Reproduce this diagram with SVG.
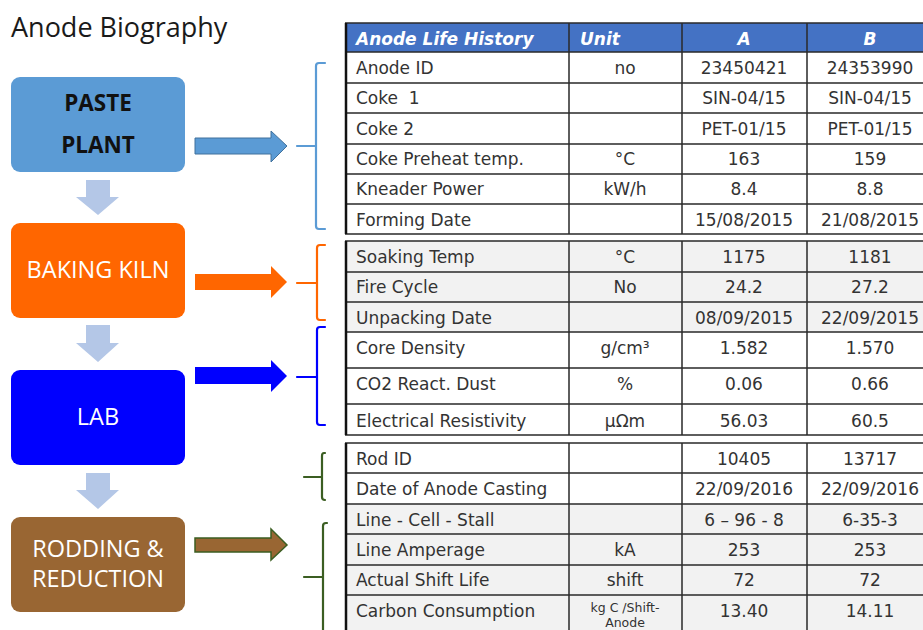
<svg xmlns="http://www.w3.org/2000/svg" width="923" height="630" viewBox="0 0 923 630">
<style>
.title{font-family:"Open Sans","Liberation Sans",sans-serif;font-size:27px;fill:#1a1a1a}
.box{font-family:"Open Sans","Liberation Sans",sans-serif;font-size:23.5px;fill:#fff;text-anchor:middle}
.boxb{font-family:"Open Sans","Liberation Sans",sans-serif;font-size:22.5px;font-weight:bold;fill:#111;text-anchor:middle}
.down{fill:#B4C7E7}
.t{font-family:"DejaVu Sans",Verdana,sans-serif;font-size:17px;fill:#333}
.c{text-anchor:middle}
.h{font-family:"DejaVu Sans",Verdana,sans-serif;font-size:17px;font-weight:bold;font-style:italic;fill:#fff}
.small{font-family:"DejaVu Sans",Verdana,sans-serif;font-size:12.5px;fill:#333;text-anchor:middle}
.grid{stroke:#2a2a2a;stroke-width:1.5;fill:none}
.br{fill:none;stroke-width:2.2;stroke-linecap:round;stroke-linejoin:round}
</style>
<rect width="923" height="630" fill="#fff"/>
<text class="title" x="11" y="37">Anode Biography</text>

<g id="paste-plant">
<rect x="11" y="77" width="174" height="95" rx="9" fill="#5B9BD5"/>
<text class="boxb" x="98" y="111">PASTE</text>
<text class="boxb" x="98" y="153">PLANT</text>
</g>
<g id="baking-kiln">
<rect x="11" y="223" width="174" height="95" rx="9" fill="#FF6600"/>
<text class="box" x="98" y="278">BAKING KILN</text>
</g>
<g id="lab">
<rect x="11" y="370" width="174" height="95" rx="9" fill="#0000FF"/>
<text class="box" x="98" y="425">LAB</text>
</g>
<g id="rodding-reduction">
<rect x="11" y="517" width="174" height="95" rx="9" fill="#996633"/>
<text class="box" x="98" y="557">RODDING &amp;</text>
<text class="box" x="98" y="587">REDUCTION</text>
</g>

<g id="connectors">
<polygon class="down" points="86,180 110,180 110,197 119,197 98,215 76,197 86,197"/>
<polygon class="down" points="86,325 110,325 110,343 119,343 98,362 76,343 86,343"/>
<polygon class="down" points="86,473 110,473 110,490 119,490 98,509 76,490 86,490"/>
<polygon points="195,138 271,138 271,131 287,146 271,162 271,154 195,154" fill="#5B9BD5" stroke="#41719C" stroke-width="1"/>
<polygon points="195,274 271,274 271,266 287,282 271,298 271,290 195,290" fill="#FF6600"/>
<polygon points="195,367 271,367 271,360 287,376 271,392 271,384 195,384" fill="#0000FF"/>
<polygon points="195,538 271,538 271,529 287,545 271,560 271,552 195,552" fill="#996633" stroke="#3B5E22" stroke-width="1.5"/>
<path class="br" stroke="#5B9BD5" d="M325,63 H319 Q316,63 316,66 V226 Q316,229 319,229 H325 M297,146 H316"/>
<path class="br" stroke="#FF6600" d="M325,245 H320 Q317,245 317,248 V317 Q317,320 320,320 H325 M297,283 H317"/>
<path class="br" stroke="#0000FF" d="M325,327 H320 Q317,327 317,330 V422 Q317,425 320,425 H325 M297,377 H317"/>
<path class="br" stroke="#3B5E22" d="M325,453 H324 Q322,453 322,456 V497 Q322,500 325,500 M304,477 H322"/>
<path class="br" stroke="#3B5E22" d="M327,523 H326 Q323,523 323,526 V640 M304,577 H323"/>
</g>

<g id="table">
<rect x="345" y="23" width="590" height="29" fill="#4472C4"/>
<rect x="345" y="241" width="590" height="91" fill="#F2F2F2"/>
<rect x="345" y="504" width="590" height="140" fill="#F2F2F2"/>
<path class="grid" d="M345,23 H935 M345,52 H935 M345,83 H935 M345,113 H935 M345,144 H935 M345,174 H935 M345,204 H935 M345,234 H935
M345,241 H935 M345,272 H935 M345,302 H935 M345,332 H935 M345,368 H935 M345,404 H935 M345,435 H935
M345,443 H935 M345,473 H935 M345,504 H935 M345,534 H935 M345,565 H935 M345,595 H935
M569,23 V234 M682,23 V234 M807,23 V234
M569,241 V435 M682,241 V435 M807,241 V435
M569,443 V640 M682,443 V640 M807,443 V640"/>
<path d="M346,23 V234 M346,241 V435 M346,443 V640" stroke="#111" stroke-width="2.5" fill="none"/>

<text class="h" x="356" y="45">Anode Life History</text>
<text class="h" x="580" y="45">Unit</text>
<text class="h c" x="744" y="45">A</text>
<text class="h c" x="870" y="45">B</text>

<g class="t">
<text x="356" y="74">Anode ID</text>
<text x="356" y="104">Coke&#160; 1</text>
<text x="356" y="135">Coke 2</text>
<text x="356" y="165">Coke Preheat temp.</text>
<text x="356" y="195">Kneader Power</text>
<text x="356" y="226">Forming Date</text>
<text x="356" y="263">Soaking Temp</text>
<text x="356" y="293">Fire Cycle</text>
<text x="356" y="324">Unpacking Date</text>
<text x="356" y="354">Core Density</text>
<text x="356" y="390">CO2 React. Dust</text>
<text x="356" y="427">Electrical Resistivity</text>
<text x="356" y="465">Rod ID</text>
<text x="356" y="495">Date of Anode Casting</text>
<text x="356" y="526">Line - Cell - Stall</text>
<text x="356" y="556">Line Amperage</text>
<text x="356" y="586">Actual Shift Life</text>
<text x="356" y="617">Carbon Consumption</text>
</g>
<g class="t c">
<text x="625" y="74">no</text>
<text x="625" y="165">°C</text>
<text x="625" y="195">kW/h</text>
<text x="625" y="263">°C</text>
<text x="625" y="293">No</text>
<text x="625" y="354">g/cm³</text>
<text x="625" y="390">%</text>
<text x="625" y="427">µΩm</text>
<text x="625" y="556">kA</text>
<text x="625" y="586">shift</text>

<text x="744" y="74">23450421</text>
<text x="744" y="104">SIN-04/15</text>
<text x="744" y="135">PET-01/15</text>
<text x="744" y="165">163</text>
<text x="744" y="195">8.4</text>
<text x="744" y="226">15/08/2015</text>
<text x="744" y="263">1175</text>
<text x="744" y="293">24.2</text>
<text x="744" y="324">08/09/2015</text>
<text x="744" y="354">1.582</text>
<text x="744" y="390">0.06</text>
<text x="744" y="427">56.03</text>
<text x="744" y="465">10405</text>
<text x="744" y="495">22/09/2016</text>
<text x="744" y="526">6 – 96 - 8</text>
<text x="744" y="556">253</text>
<text x="744" y="586">72</text>
<text x="744" y="617">13.40</text>

<text x="870" y="74">24353990</text>
<text x="870" y="104">SIN-04/15</text>
<text x="870" y="135">PET-01/15</text>
<text x="870" y="165">159</text>
<text x="870" y="195">8.8</text>
<text x="870" y="226">21/08/2015</text>
<text x="870" y="263">1181</text>
<text x="870" y="293">27.2</text>
<text x="870" y="324">22/09/2015</text>
<text x="870" y="354">1.570</text>
<text x="870" y="390">0.66</text>
<text x="870" y="427">60.5</text>
<text x="870" y="465">13717</text>
<text x="870" y="495">22/09/2016</text>
<text x="870" y="526">6-35-3</text>
<text x="870" y="556">253</text>
<text x="870" y="586">72</text>
<text x="870" y="617">14.11</text>
</g>
<text class="small" x="625" y="612">kg C /Shift-</text>
<text class="small" x="625" y="627">Anode</text>
</g>
</svg>
